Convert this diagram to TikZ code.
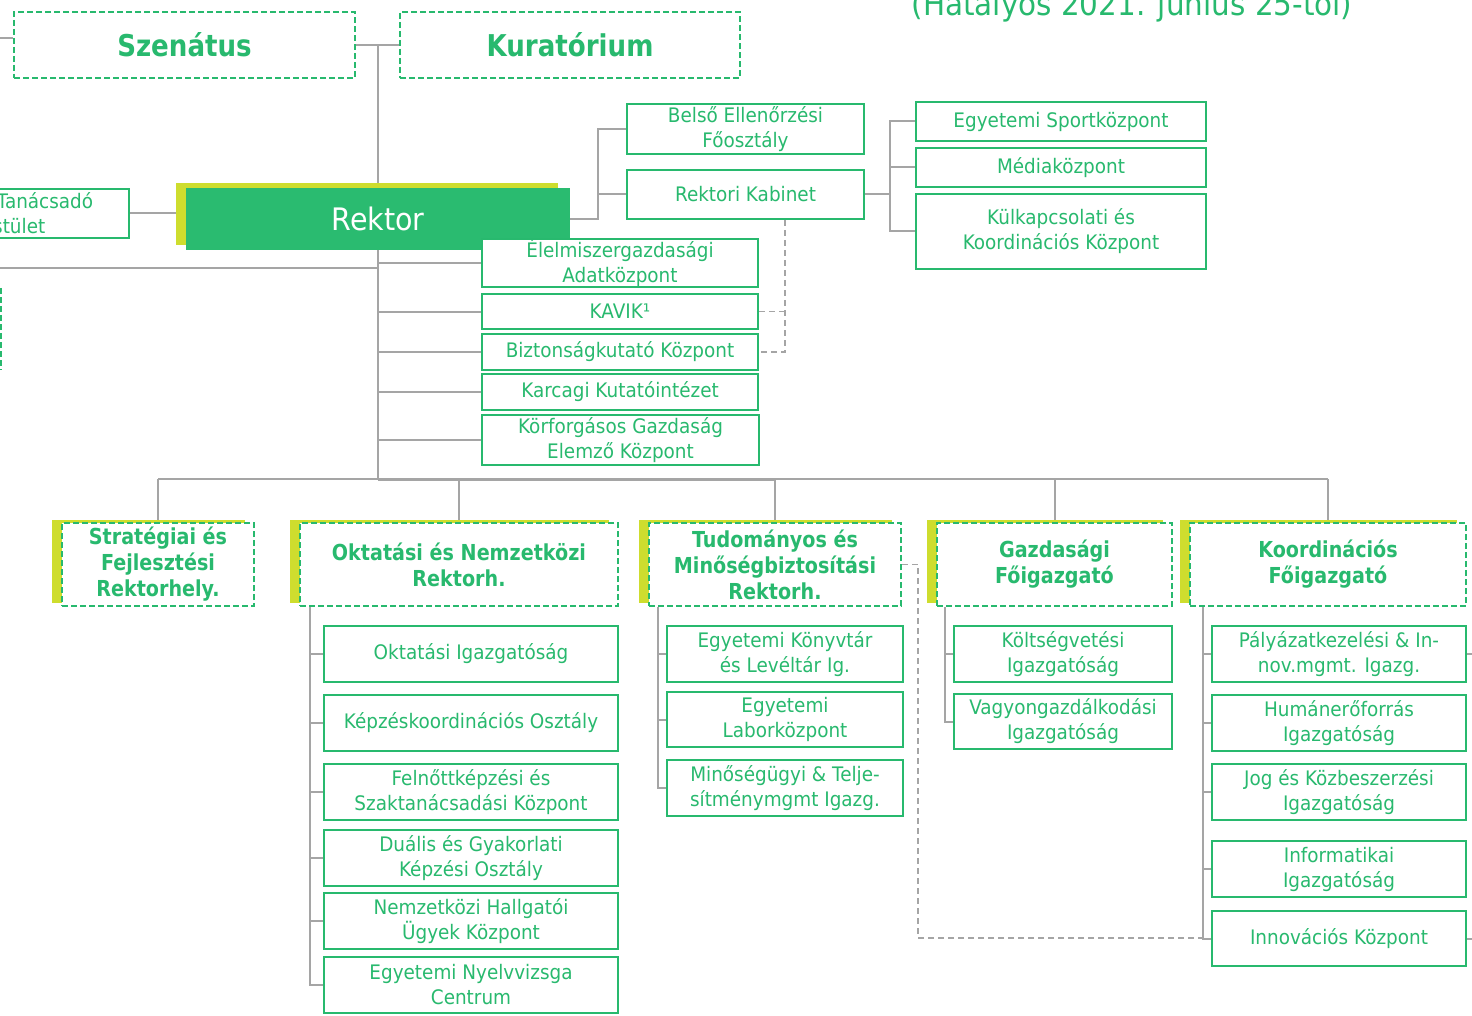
\documentclass[tikz,border=0pt]{standalone}
\usepackage{fontspec}
\newfontfamily\fr{DejaVu Sans}[FakeStretch=0.92]
\newfontfamily\fb{DejaVu Sans}[FakeStretch=0.87]
\definecolor{gr}{RGB}{40,185,110}
\definecolor{rk}{RGB}{42,187,112}
\definecolor{lm}{RGB}{206,221,46}
\definecolor{gy}{RGB}{165,165,165}
\pgfdeclarelayer{bg}
\pgfsetlayers{bg,main}
\newcommand\Bx[7]{\node[#1, minimum width={((#5)-(#3))*1pt}, minimum height={((#6)-(#4))*1pt}] (#2) at ({((#3)+(#5))/2},{((#4)+(#6))/2}) {#7};}
\newcommand\Vx[6]{\fill[lm] ({(#2)-10},{(#3)-3}) rectangle ({(#4)-9},{(#5)-3});
\Bx{vbox}{#1}{#2}{#3}{#4}{#5}{#6}}
\tikzset{
 sbox/.style={draw=gr, line width=2pt, fill=white, align=center, inner sep=0pt, text=gr, font={\fr\fontsize{20}{25}\selectfont}},
 vbox/.style={draw=gr, line width=1.6pt, dash pattern=on 6pt off 3pt, fill=white, align=center, inner sep=0pt, text=gr, font={\fb\bfseries\fontsize{22}{26}\selectfont}},
 tbox/.style={vbox, font={\fb\bfseries\fontsize{30}{34}\selectfont}},
 rbox/.style={fill=rk, draw=none, inner sep=0pt, text=white, font={\fr\fontsize{31}{34}\selectfont}},
 conn/.style={draw=gy, line width=2pt},
 dconn/.style={draw=gy, line width=1.6pt, dash pattern=on 6pt off 4pt},
}
\begin{document}
\begin{tikzpicture}[x=1pt,y=-1pt]
\useasboundingbox (0,0) rectangle (1472,1016);
\node[anchor=base, text=gr, inner sep=0pt, font={\fr\fontsize{32}{36}\selectfont}] (title) at (1132,16) {(Hatályos 2021. június 25-től)};
% top
\Bx{tbox}{szen}{14}{12}{355}{78}{Szenátus}
\Bx{tbox}{kur}{400}{12}{740}{78}{Kuratórium}
\fill[lm] (176,183) rectangle (558,245);
\Bx{rbox}{rektor}{186}{188}{570}{250}{Rektor}
\Bx{sbox}{tan}{-110}{189}{129}{238}{Rektori Tanácsadó\\Testület}
\Bx{sbox}{belso}{627}{104}{864}{154}{Belső Ellenőrzési\\Főosztály}
\Bx{sbox}{kab}{627}{170}{864}{219}{Rektori Kabinet}
\Bx{sbox}{sport}{916}{102}{1206}{141}{Egyetemi Sportközpont}
\Bx{sbox}{media}{916}{148}{1206}{187}{Médiaközpont}
\Bx{sbox}{kulk}{916}{194}{1206}{269}{Külkapcsolati és\\Koordinációs Központ}
\Bx{sbox}{elelm}{482}{239}{758}{287}{Élelmiszergazdasági\\Adatközpont}
\Bx{sbox}{kavik}{482}{294}{758}{329}{KAVIK¹}
\Bx{sbox}{bizt}{482}{334}{758}{370}{Biztonságkutató Központ}
\Bx{sbox}{karc}{482}{374}{758}{410}{Karcagi Kutatóintézet}
\Bx{sbox}{korf}{482}{415}{759}{465}{Körforgásos Gazdaság\\Elemző Központ}
% vice rectors
\Vx{strat}{62}{523}{254}{606}{Stratégiai és\\Fejlesztési\\Rektorhely.}
\Vx{okt}{300}{523}{618}{606}{Oktatási és Nemzetközi\\Rektorh.}
\Vx{tud}{649}{523}{901}{606}{Tudományos és\\Minőségbiztosítási\\Rektorh.}
\Vx{gazd}{937}{523}{1172}{606}{Gazdasági\\Főigazgató}
\Vx{koord}{1190}{523}{1466}{606}{Koordinációs\\Főigazgató}
% okt children
\Bx{sbox}{oi}{324}{626}{618}{682}{Oktatási Igazgatóság}
\Bx{sbox}{kk}{324}{695}{618}{751}{Képzéskoordinációs Osztály}
\Bx{sbox}{fk}{324}{764}{618}{820}{Felnőttképzési és\\Szaktanácsadási Központ}
\Bx{sbox}{du}{324}{830}{618}{886}{Duális és Gyakorlati\\Képzési Osztály}
\Bx{sbox}{nh}{324}{893}{618}{949}{Nemzetközi Hallgatói\\Ügyek Központ}
\Bx{sbox}{ny}{324}{957}{618}{1013}{Egyetemi Nyelvvizsga\\Centrum}
% tud children
\Bx{sbox}{ek}{667}{626}{903}{682}{Egyetemi Könyvtár\\és Levéltár Ig.}
\Bx{sbox}{el}{667}{692}{903}{747}{Egyetemi\\Laborközpont}
\Bx{sbox}{mi}{667}{760}{903}{816}{Minőségügyi \& Telje-\\sítménymgmt Igazg.}
% gazd children
\Bx{sbox}{kv}{954}{626}{1172}{682}{Költségvetési\\Igazgatóság}
\Bx{sbox}{va}{954}{694}{1172}{749}{Vagyongazdálkodási\\Igazgatóság}
% koord children
\Bx{sbox}{pa}{1212}{626}{1466}{682}{Pályázatkezelési \& In-\\nov.mgmt. Igazg.}
\Bx{sbox}{hu}{1212}{695}{1466}{751}{Humánerőforrás\\Igazgatóság}
\Bx{sbox}{jo}{1212}{764}{1466}{820}{Jog és Közbeszerzési\\Igazgatóság}
\Bx{sbox}{inf}{1212}{841}{1466}{897}{Informatikai\\Igazgatóság}
\Bx{sbox}{iv}{1212}{911}{1466}{966}{Innovációs Központ}
% coordinates
\coordinate (bus) at (0,479);
\coordinate (lf) at (0,268);
\coordinate (rj) at (598,0);
\coordinate (kj) at (890,0);
\coordinate (kd) at (785,350);
\coordinate (ot) at (310,0);
\coordinate (tt) at (658,0);
\coordinate (gt) at (945,0);
\coordinate (kt) at (1203,0);
\coordinate (dd) at (918,938);
\draw[gr, line width=1.6pt, dash pattern=on 6pt off 3pt] (0.8,288) -- (0.8,370);
\begin{pgfonlayer}{bg}
\draw[conn] (szen.east) -- (kur.west);
\draw[conn] (rektor.north |- szen.east) -- (rektor.north);
\draw[conn] (szen.west) ++(0,-7) -- ++(-14,0);
\draw[conn] (tan.east) -- (tan.east -| rektor.west);
\draw[conn] (rektor.south) -- (rektor.south |- bus);
\draw[conn] (lf) -- (lf -| rektor.south);
\foreach \n in {elelm,kavik,bizt,karc,korf}{\draw[conn] (\n.west -| rektor.south) -- (\n.west);}
\draw[conn] (rektor.east) -- (rektor.east -| rj) |- (belso.west);
\draw[conn] (kab.west) -- (kab.west -| rj);
\draw[conn] (kab.east) -- (kab.east -| kj);
\draw[conn] (sport.west) -| (kj |- kulk.west) -- (kulk.west);
\draw[conn] (media.west -| kj) -- (media.west);
\draw[dconn] (kab.south -| kd) |- (bizt.east);
\draw[dconn] (kavik.east) -- (kavik.east -| kd);
\draw[conn] (strat.north |- bus) -- (koord.north |- bus);
\draw[conn, line width=3pt] (rektor.south |- bus) -- (tud.north |- bus);
\foreach \n in {strat,okt,tud,gazd,koord}{\draw[conn] (\n.north |- bus) -- (\n.north);}
\draw[conn] (okt.south -| ot) |- (ny.west);
\foreach \n in {oi,kk,fk,du,nh}{\draw[conn] (\n.west -| ot) -- (\n.west);}
\draw[conn] (tud.south -| tt) |- (mi.west);
\foreach \n in {ek,el}{\draw[conn] (\n.west -| tt) -- (\n.west);}
\draw[conn] (gazd.south -| gt) |- (va.west);
\draw[conn] (kv.west -| gt) -- (kv.west);
\draw[conn] (koord.south -| kt) |- (iv.west);
\foreach \n in {pa,hu,jo,inf}{\draw[conn] (\n.west -| kt) -- (\n.west);}
\draw[conn] (pa.east) -- ++(10,0);
\draw[conn] (iv.east) -- ++(10,0);
\draw[dconn] (tud.east) -| (dd) -- (dd -| kt);
\end{pgfonlayer}
\end{tikzpicture}
\end{document}
